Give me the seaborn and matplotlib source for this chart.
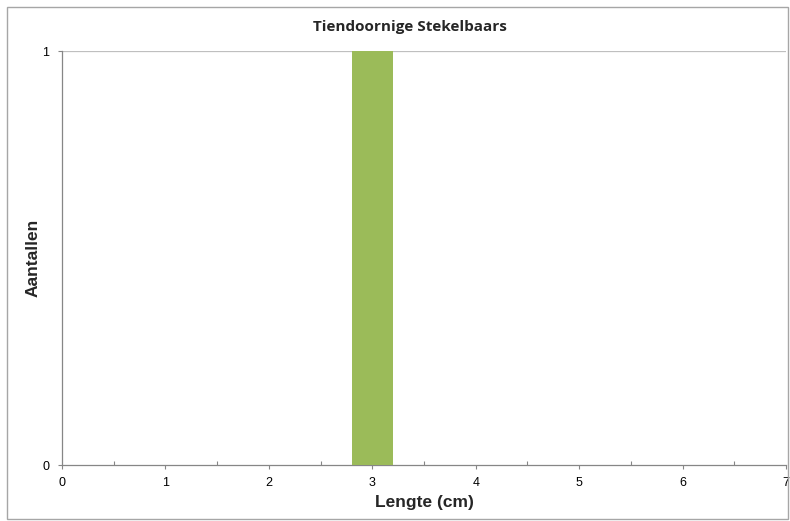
import matplotlib
matplotlib.use("Agg")
import matplotlib.pyplot as plt
from matplotlib.ticker import MultipleLocator
from matplotlib.patches import Rectangle
import seaborn as sns
import pandas as pd

# Length classes (cm) and counts
lengte = [3.0]
aantallen = [1]
x_ticks = [0, 1, 2, 3, 4, 5, 6, 7]
y_ticks = [0, 1]

title = "Tiendoornige Stekelbaars"
x_label = "Lengte (cm)"
y_label = "Aantallen"

df = pd.DataFrame({"lengte": lengte, "aantallen": aantallen})

sns.set_theme(style="white")
plt.rcParams["font.family"] = ["Liberation Sans", "DejaVu Sans"]

fig = plt.figure(figsize=(7.9, 5.21), dpi=100)
ax = fig.add_axes([62 / 790, 1 - 465 / 521, (786 - 62) / 790, (465 - 51) / 521])

sns.barplot(data=df, x="lengte", y="aantallen", native_scale=True,
            width=0.4, color="#9BBB59", saturation=1, linewidth=0,
            ax=ax, zorder=3)

axis_col = "#868686"
ax.set_xlim(0, 7)
ax.set_ylim(0, 1)
ax.set_xticks(x_ticks)
ax.set_xticklabels([str(t) for t in x_ticks])
ax.set_yticks(y_ticks)
ax.set_yticklabels([str(t) for t in y_ticks])
ax.xaxis.set_minor_locator(MultipleLocator(0.5))

ax.tick_params(axis="x", which="major", direction="out", length=3, width=0.8,
               color=axis_col, labelsize=9, pad=6, labelcolor="black")
ax.tick_params(axis="x", which="minor", direction="in", length=3, width=0.8,
               color=axis_col)
ax.tick_params(axis="y", which="major", direction="out", length=3, width=0.8,
               color=axis_col, labelsize=9, pad=6, labelcolor="black")
ax.tick_params(bottom=True, left=True, which="both")
ax.tick_params(axis="y", which="minor", left=False)

for side in ["top", "right"]:
    ax.spines[side].set_visible(False)
for side in ["left", "bottom"]:
    ax.spines[side].set_color(axis_col)
    ax.spines[side].set_linewidth(0.9)

ax.axhline(1, color="#BFBFBF", linewidth=0.9, zorder=1)

ax.set_xlabel(x_label, fontsize=12.5, fontweight="bold")
ax.set_ylabel(y_label, fontsize=12.5, fontweight="bold")
ax.xaxis.set_label_coords(0.5, -(495 - 465) / 414)
ax.yaxis.set_label_coords(-(62 - 41) / 724, 0.5)

fig.text(410 / 790, 1 - 27 / 521, title, ha="center", va="center",
         fontsize=11, fontweight="bold", family=["Open Sans", "DejaVu Sans"])

# Chart border
fig.patches.append(Rectangle((7 / 790, 2 / 521), 781 / 790, 512 / 521,
                             transform=fig.transFigure, fill=False,
                             edgecolor="#A6A6A6", linewidth=1.0))

fig.savefig("out.png", dpi=100)
